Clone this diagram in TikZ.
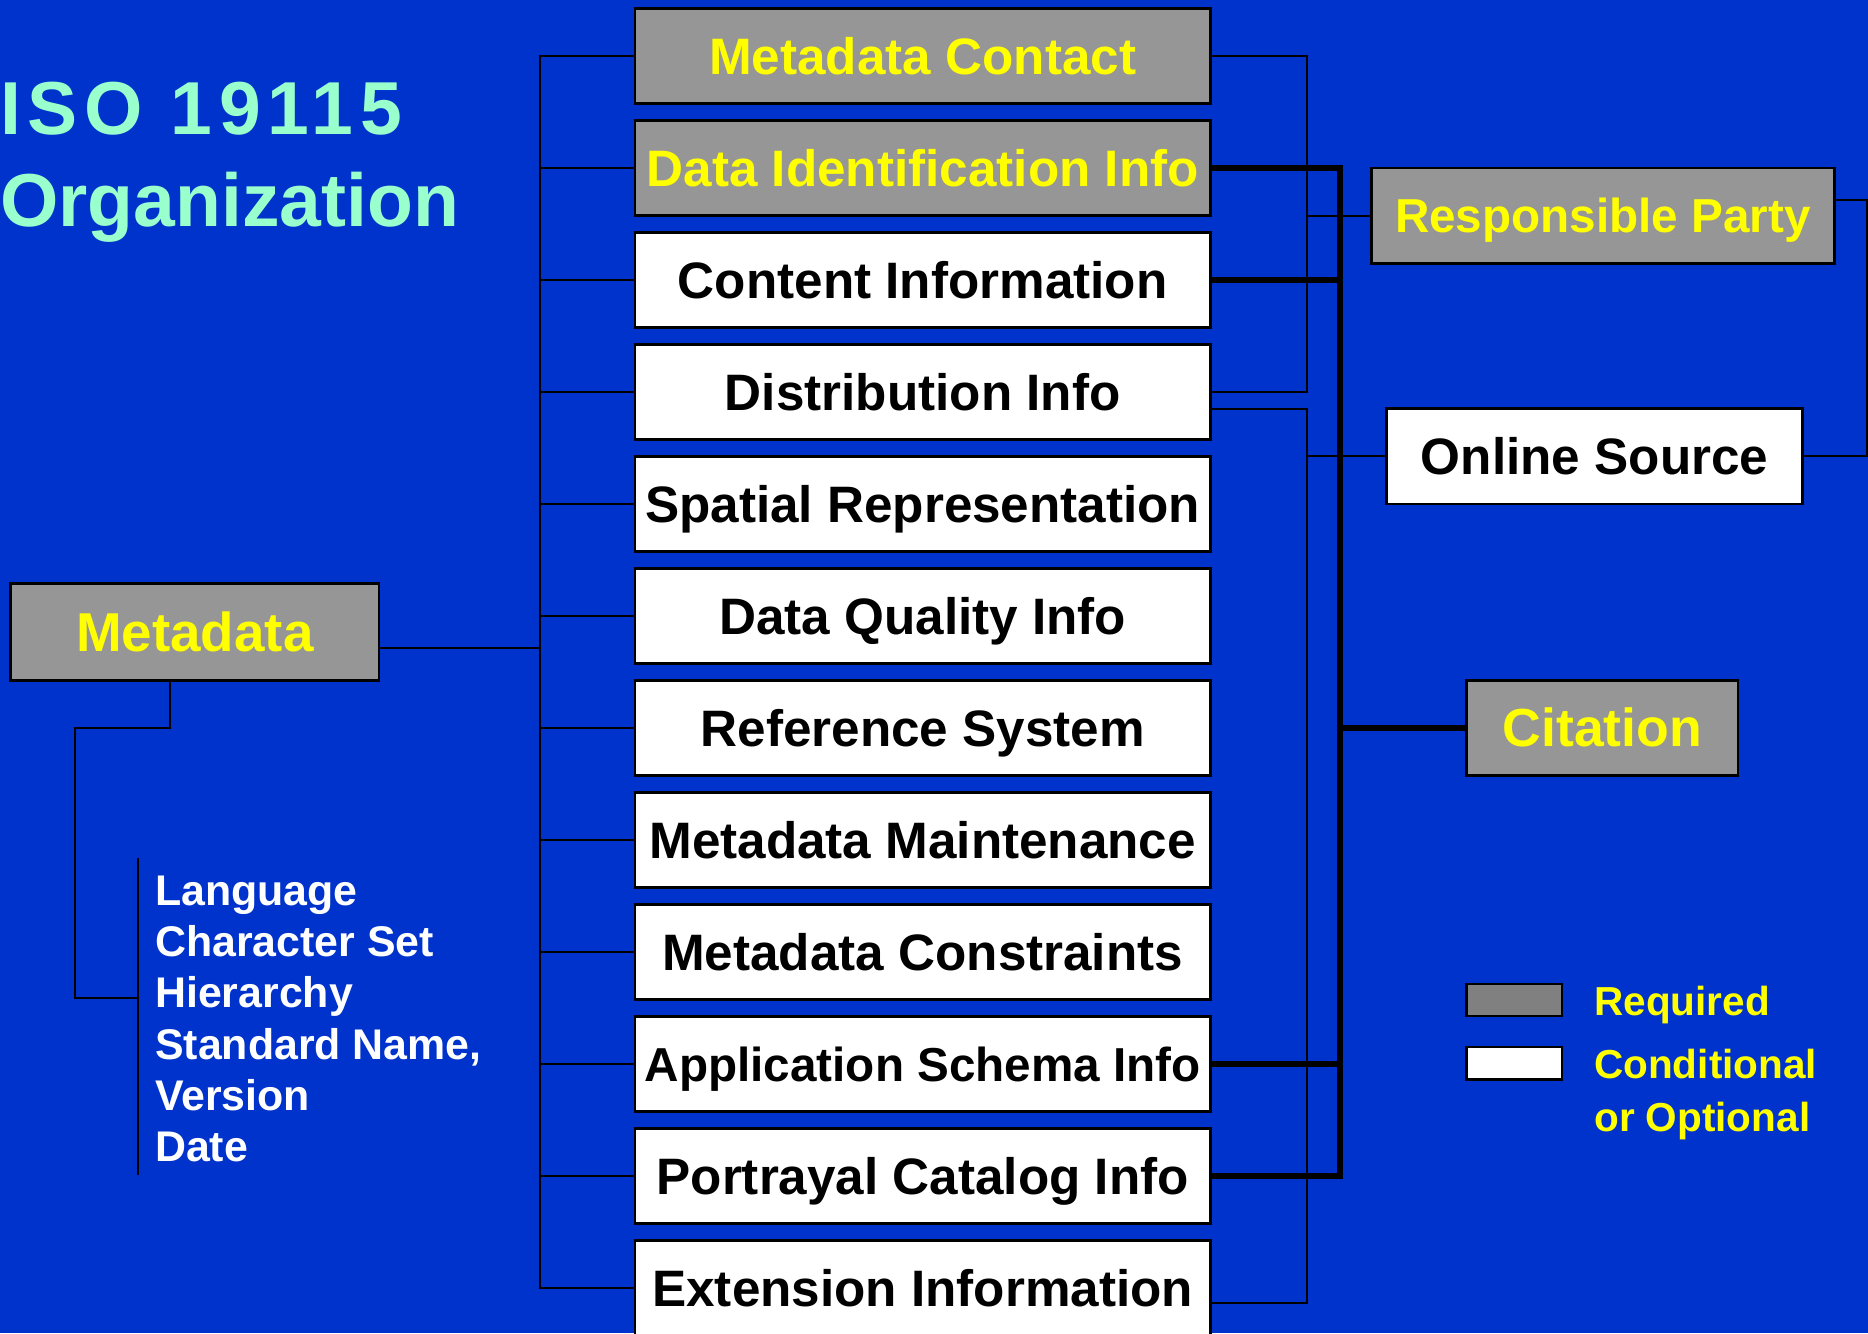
\documentclass[tikz,border=0pt]{standalone}
\usepackage{fontspec}
\setmainfont{Liberation Sans}
\definecolor{bg}{HTML}{0033CC}
\definecolor{boxgray}{HTML}{969696}
\definecolor{leggray}{HTML}{808080}
\definecolor{titlec}{HTML}{99FFCC}
\definecolor{yel}{HTML}{FFFF00}
\begin{document}
\begin{tikzpicture}[x=1pt,y=-1pt,
  mbox/.style={draw=black, line width=2.2pt, minimum width=483pt, minimum height=80pt,
    inner sep=0pt, font=\fontsize{43}{43}\selectfont\bfseries, text height=31pt, text depth=0pt},
  req/.style={mbox, fill=boxgray, text=yel},
  opt/.style={mbox, fill=white, text=black},
  thinln/.style={line width=1.8pt, draw=black, line join=miter},
  heavy/.style={line width=5pt, draw=black, line join=miter},
  listtxt/.style={anchor=base west, inner sep=0pt, text=white, font=\fontsize{36}{36}\selectfont\bfseries},
  legtxt/.style={anchor=base west, inner sep=0pt, text=yel, font=\fontsize{34}{34}\selectfont\bfseries},
  titletxt/.style={anchor=base west, inner sep=0pt, text=titlec, font=\fontsize{63}{63}\selectfont\bfseries},
  legbox/.style={draw=black, line width=2pt, minimum width=80pt, minimum height=27pt, inner sep=0pt}
]
\fill[bg] (0,0) rectangle (1568,1119);
\useasboundingbox (0,0) rectangle (1568,1119);

% title
\node[titletxt] (t1) at (0,113) {\addfontfeatures{LetterSpace=9}ISO 19115};
\node[titletxt] (t2) at (0,190) {Organization};

% main column
\node[req] (b1)  at (774.5,47)   {Metadata Contact};
\node[req] (b2)  at (774.5,141)  {Data Identification Info};
\node[opt] (b3)  at (774.5,235)  {Content Information};
\node[opt] (b4)  at (774.5,329)  {Distribution Info};
\node[opt] (b5)  at (774.5,423)  {Spatial Representation};
\node[opt] (b6)  at (774.5,517)  {Data Quality Info};
\node[opt] (b7)  at (774.5,611)  {Reference System};
\node[opt] (b8)  at (774.5,705)  {Metadata Maintenance};
\node[opt] (b9)  at (774.5,799)  {Metadata Constraints};
\node[opt, font=\fontsize{40}{40}\selectfont\bfseries, text height=29pt] (b10) at (774.5,893) {Application Schema Info};
\node[opt] (b11) at (774.5,987)  {Portrayal Catalog Info};
\node[opt] (b12) at (774.5,1081) {Extension Information};

% metadata root
\node[req, minimum width=309pt, minimum height=81pt, font=\fontsize{46}{46}\selectfont\bfseries, text height=33pt] (md) at (163.5,530.5) {Metadata};

% right boxes
\node[req, minimum width=389pt, font=\fontsize{40}{40}\selectfont\bfseries, text height=29pt] (rp) at (1345.5,181) {Responsible Party};
\node[opt, minimum width=349pt] (os) at (1338.5,383) {Online Source};
\node[req, minimum width=228pt, font=\fontsize{45}{45}\selectfont\bfseries, text height=32pt] (ct) at (1345,611) {Citation};

% left bus
\coordinate (lb) at (453,544);
\draw[thinln] ([yshift=-13.5pt]md.east) -- (lb);
\foreach \i in {1,...,12} { \draw[thinln] (lb) |- (b\i.west); }

% metadata attributes
\coordinate (mlb) at (116,838);
\coordinate (mtop) at (116,720);
\coordinate (mbot) at (116,986);
\draw[thinln] ([xshift=-20.5pt]md.south) |- (63,611) |- (mlb);
\draw[thinln] (mtop) -- (mbot);
\node[listtxt] (l1) at (130,760) {Language};
\node[listtxt] (l2) at (130,803) {Character Set};
\node[listtxt] (l3) at (130,846) {Hierarchy};
\node[listtxt] (l4) at (130,889) {Standard Name,};
\node[listtxt] (l5) at (130,932) {Version};
\node[listtxt] (l6) at (130,975) {Date};

% thin bus to Responsible Party
\coordinate (ra) at (1097,181);
\draw[thinln] (b1.east) -| (ra);
\draw[thinln] (b4.east) -| (ra);
\draw[thinln] (ra) -- (rp.west);

% thin bus to Online Source
\coordinate (rb) at (1097,383);
\draw[thinln] ([yshift=-14pt]b4.east) -| (rb);
\draw[thinln] ([yshift=-13pt]b12.east) -| (rb);
\draw[thinln] (rb) -- (os.west);
\draw[thinln] (os.east) -- ++(53,0) |- ([yshift=13pt]rp.east);

% heavy bus to Citation
\coordinate (tb) at (1125,611);
\draw[heavy] (b2.east) -| (tb);
\draw[heavy] (b3.east) -| (tb);
\draw[heavy] (b10.east) -| (tb);
\draw[heavy] (b11.east) -| (tb);
\draw[heavy] (tb) -- (ct.west);

% legend
\node[legbox, fill=leggray] (lg1) at (1271,839.5) {};
\node[legbox, fill=white] (lg2) at (1271,892.5) {};
\node[legtxt] (lt1) at (1338,852) {Required};
\node[legtxt] (lt2) at (1338,905) {Conditional};
\node[legtxt] (lt3) at (1338,950) {or Optional};
\end{tikzpicture}
\end{document}
